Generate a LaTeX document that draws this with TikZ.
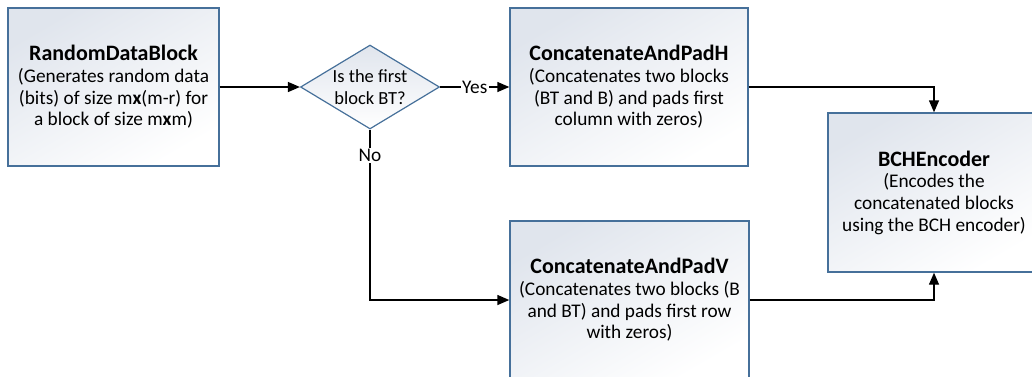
\documentclass[tikz,border=0pt]{standalone}
\usepackage{fontspec}
\setmainfont{Carlito}
\usetikzlibrary{arrows.meta,shapes.geometric}
\definecolor{boxline}{RGB}{70,112,154}
\definecolor{boxfill}{RGB}{224,229,237}
\tikzset{
  block/.style={draw=boxline, line width=1.4pt, shading=axis, top color=boxfill,
    bottom color=white, shading angle=30, align=center, inner sep=0pt},
  decision/.style={diamond, draw=boxline, line width=1.2pt, shading=axis,
    top color=boxfill, bottom color=white, inner sep=0pt,
    minimum width=139pt, minimum height=84pt},
  flow/.style={line width=1.4pt, -{Triangle[length=12pt,width=10pt]}},
  lbl/.style={fill=white, inner sep=1.5pt},
  body/.style={font=\fontsize{19.3}{21.7}\selectfont},
}
\newcommand{\ttl}[1]{{\fontsize{22}{25}\selectfont\bfseries #1}}
\begin{document}
\begin{tikzpicture}[x=1pt, y=-1pt, body]
\useasboundingbox (0,0) rectangle (1032,376);

\node[block, minimum width=211pt, minimum height=158pt] (rdb) at (113.5,87)
  {\ttl{RandomDataBlock}\\(Generates random data\\(bits) of size m\textbf{x}(m-r) for\\a block of size m\textbf{x}m)};

\node[decision] (dec) at (370,87) {};
\node[align=center, inner sep=0pt, font=\fontsize{18.5}{21.7}\selectfont] (dectext) at (dec.center) {Is the first\\block BT?};

\node[block, minimum width=238pt, minimum height=158pt] (cH) at (629,87)
  {\ttl{ConcatenateAndPadH}\\(Concatenates two blocks\\(BT and B) and pads first\\column with zeros)};

\node[block, minimum width=239pt, minimum height=158pt] (cV) at (629.5,300)
  {\ttl{ConcatenateAndPadV}\\(Concatenates two blocks (B\\and BT) and pads first row\\with zeros)};

\node[block, minimum width=212pt, minimum height=159pt] (bch) at (934,192.5)
  {\ttl{BCHEncoder}\\(Encodes the\\concatenated blocks\\using the BCH encoder)};

\draw[flow] (rdb.east) -- (dec.west);
\draw[flow] (dec.east) -- node[lbl] {Yes} (cH.west);
\draw[flow] (dec.south) |- node[lbl, pos=0.076] {No} (cV.west);
\draw[flow] (cH.east) -| (bch.north);
\draw[flow] (cV.east) -| (bch.south);
\end{tikzpicture}
\end{document}
